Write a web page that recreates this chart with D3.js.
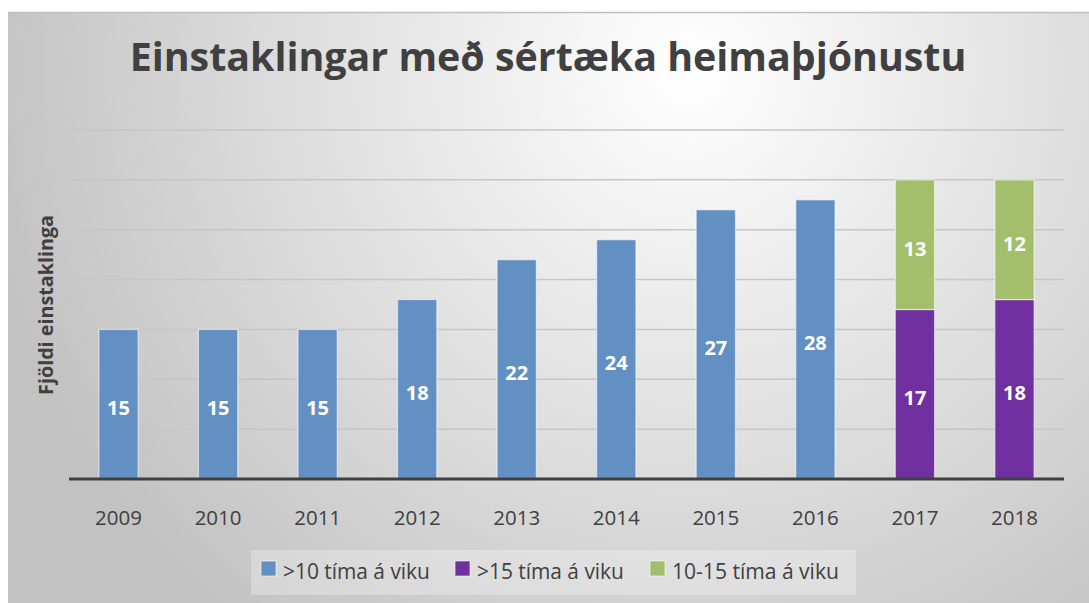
<!DOCTYPE html>
<html><head><meta charset="utf-8">
<script src="https://cdn.jsdelivr.net/npm/d3@7"></script>
<style>
html,body{margin:0;padding:0;background:#fff;}
svg{display:block;}
text{font-family:"Open Sans","Noto Sans",sans-serif;}
</style></head>
<body>
<svg id="c" width="1089" height="603"></svg>
<script>
const years = ["2009","2010","2011","2012","2013","2014","2015","2016","2017","2018"];
const over10 = [15,15,15,18,22,24,27,28,0,0];
const over15 = [0,0,0,0,0,0,0,0,17,18];
const mid10to15 = [0,0,0,0,0,0,0,0,13,12];
const seriesNames = [">10 tíma á viku", ">15 tíma á viku", "10-15 tíma á viku"];
const seriesColors = ["#6390c3", "#7030a0", "#a3bf6c"];
const yTicks = [0,5,10,15,20,25,30,35];
const title = "Einstaklingar með sértæka heimaþjónustu";
const yLabel = "Fjöldi einstaklinga";

const svg = d3.select("#c");
const W = 1089, H = 603;

function fitWidth(sel, base, target){
  sel.attr("font-size", base);
  const w = sel.node().getComputedTextLength();
  sel.attr("font-size", base*target/w);
}

// background
const defs = svg.append("defs");
const rg = defs.append("radialGradient").attr("id","bg")
  .attr("gradientUnits","userSpaceOnUse").attr("cx",690).attr("cy",70).attr("r",720);
rg.append("stop").attr("offset","0%").attr("stop-color","#ffffff");
rg.append("stop").attr("offset","100%").attr("stop-color","#c2c2c2");
svg.append("rect").attr("x",8).attr("y",12).attr("width",W-8).attr("height",H-12).attr("fill","url(#bg)");
svg.append("line").attr("x1",8).attr("x2",W).attr("y1",12.5).attr("y2",12.5).attr("stroke","#c0c0c0").attr("stroke-width",1.5);

const m = {l:69, r:1064, t:130, b:479};
const x = d3.scaleBand().domain(years).range([m.l, m.r]).paddingInner(0.605).paddingOuter(0.3);
const y = d3.scaleLinear().domain([0,35]).range([m.b, m.t]);

// gridlines
svg.append("g").selectAll("line").data(yTicks.filter(d=>d>0)).join("line")
  .attr("x1",m.l).attr("x2",m.r).attr("y1",d=>y(d)).attr("y2",d=>y(d))
  .attr("stroke","#c6c6c6").attr("stroke-width",1.5);

// stacked data
const table = years.map((yr,i)=>({year:yr, a:over10[i], b:over15[i], c:mid10to15[i]}));
const stack = d3.stack().keys(["a","b","c"])(table);

const g = svg.append("g");
stack.forEach((s,si)=>{
  g.selectAll(null).data(s).join("rect")
    .attr("x",d=>x(d.data.year)).attr("width",x.bandwidth())
    .attr("y",d=>y(d[1])).attr("height",d=>Math.max(0,y(d[0])-y(d[1])))
    .attr("fill",seriesColors[si])
    .attr("stroke", d => (d[1]-d[0])>0 ? "rgba(255,255,255,0.55)" : (si===2 ? "#c9d89a" : "none"))
    .attr("stroke-width",1.3);
});
// data labels
stack.forEach((s,si)=>{
  g.selectAll(null).data(s.filter(d=>d[1]-d[0]>0)).join("text")
    .attr("x",d=>x(d.data.year)+x.bandwidth()/2)
    .attr("y",d=>(y(d[0])+y(d[1]))/2 + 11)
    .attr("text-anchor","middle").attr("fill","#fff").attr("font-weight","bold")
    .attr("font-size",20)
    .text(d=>d[1]-d[0]);
});

// baseline
svg.append("line").attr("x1",m.l).attr("x2",m.r).attr("y1",m.b).attr("y2",m.b)
  .attr("stroke","#404040").attr("stroke-width",3);

// x axis labels
const xa = svg.append("g").attr("transform",`translate(0,${m.b})`)
  .call(d3.axisBottom(x).tickSize(0).tickPadding(0));
xa.select(".domain").remove();
xa.selectAll("text").attr("y",46).attr("dy",0).attr("font-size",20.5).attr("fill","#404040")
  .style("font-family",'"Open Sans","Noto Sans",sans-serif');

// title
const t = svg.append("text").attr("x",548).attr("y",71).attr("text-anchor","middle")
  .attr("font-weight","bold").attr("fill","#404040").text(title);
fitWidth(t, 40, 837);

// y label
const yl = svg.append("text").attr("transform","translate(53,305) rotate(-90)")
  .attr("text-anchor","middle").attr("font-weight","bold")
  .attr("fill","#404040").text(yLabel);
fitWidth(yl, 16, 180);

// legend
const lg = svg.append("g");
lg.append("rect").attr("x",251).attr("y",550).attr("width",605).attr("height",45)
  .attr("fill","#ffffff").attr("fill-opacity",0.28);
const legX = [261, 455, 650];
const legW = [147, 147, 167];
seriesNames.forEach((n,i)=>{
  lg.append("rect").attr("x",legX[i]).attr("y",561).attr("width",15).attr("height",15)
    .attr("fill",seriesColors[i]).attr("stroke","rgba(255,255,255,0.6)").attr("stroke-width",1);
  const tx = lg.append("text").attr("x",legX[i]+22).attr("y",579)
    .attr("fill","#404040").text(n);
  fitWidth(tx, 18, legW[i]);
});
</script>
</body></html>
